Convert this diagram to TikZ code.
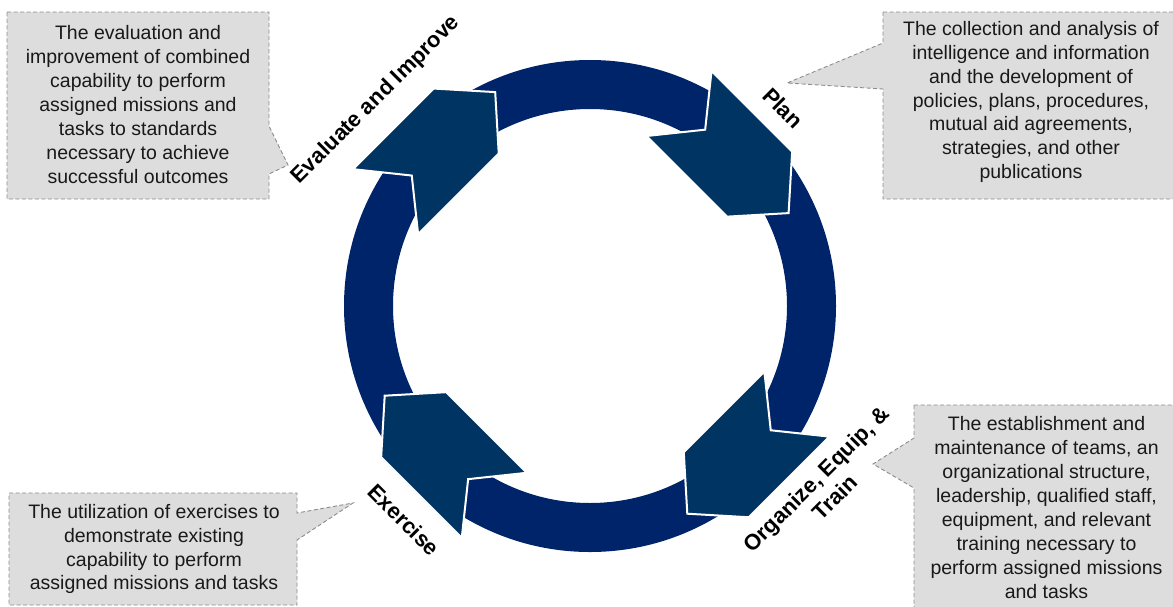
\documentclass[tikz,border=0pt]{standalone}
\usepackage{fontspec}
\setmainfont{Liberation Sans}
\definecolor{ringcol}{HTML}{002469}
\definecolor{chevcol}{HTML}{003463}
\definecolor{boxfill}{HTML}{DDDDDD}
\definecolor{boxline}{HTML}{8C8C8C}
\begin{document}
\begin{tikzpicture}[x=1pt,y=-1pt,
  chevfill/.style={fill=chevcol,draw=white,line width=2pt,line join=miter},
  chevron/.pic={\path[chevfill] (-77.5,46) -- (36.5,46) -- (77.5,0) -- (36.5,-46) -- (-77.5,-46) -- (-40.5,0) -- cycle;},
  lbl/.style={font=\bfseries\fontsize{22}{26}\selectfont,align=center,inner sep=0pt},
  callout/.style={fill=boxfill,draw=boxline,line width=0.9pt,dash pattern=on 4pt off 2.5pt},
  boxtext/.style={font=\fontsize{19.5}{23.9}\selectfont,align=center,inner sep=0pt,text=black!90}
]
\useasboundingbox (0,0) rectangle (1173,606);
% ring
\fill[ringcol,even odd rule] (590,306) circle[radius=246] (590,306) circle[radius=197];
% chevrons
\pic[rotate=45] at (440.4,146.9) {chevron};
\pic[rotate=-45] at (733.8,158.3) {chevron};
\pic[rotate=-135] at (742.1,458.9) {chevron};
\pic[rotate=135] at (439.5,450.5) {chevron};
% labels
\node[lbl,rotate=45] (evl) at (376,100) {Evaluate and Improve};
\node[lbl,rotate=-45] (pln) at (783,108) {Plan};
\node[lbl,rotate=45] (org) at (825.5,488) {Organize, Equip, \&\\Train};
\node[lbl,rotate=-45] (exe) at (404,520) {Exercise};
% callouts
\coordinate (tltip) at (288,165);
\coordinate (trtip) at (787,83);
\coordinate (bltip) at (353,503);
\coordinate (brtip) at (873,464);
\path[callout] (7,12) -- (269,12) -- (269,126) -- (tltip) -- (269,174) -- (269,199) -- (7,199) -- cycle;
\path[callout] (883,12) -- (1180,12) -- (1180,199) -- (883,199) -- (883,89) -- (trtip) -- (883,43) -- cycle;
\path[callout] (9,493) -- (297,493) -- (297,513) -- (bltip) -- (297,540) -- (297,605) -- (9,605) -- cycle;
\path[callout] (914,405) -- (1180,405) -- (1180,612) -- (914,612) -- (914,488) -- (brtip) -- (914,438) -- cycle;
\node[boxtext] (tlt) at (138,104.5) {The evaluation and\\improvement of combined\\capability to perform\\assigned missions and\\tasks to standards\\necessary to achieve\\successful outcomes};
\node[boxtext] (trt) at (1031,102) {The collection and analysis of\\intelligence and information\\and the development of\\policies, plans, procedures,\\mutual aid agreements,\\strategies, and other\\publications};
\node[boxtext] (blt) at (154,549) {The utilization of exercises to\\demonstrate existing\\capability to perform\\assigned missions and tasks};
\node[boxtext] (brt) at (1046.5,507.5) {The establishment and\\maintenance of teams, an\\organizational structure,\\leadership, qualified staff,\\equipment, and relevant\\training necessary to\\perform assigned missions\\and tasks};
\end{tikzpicture}
\end{document}
